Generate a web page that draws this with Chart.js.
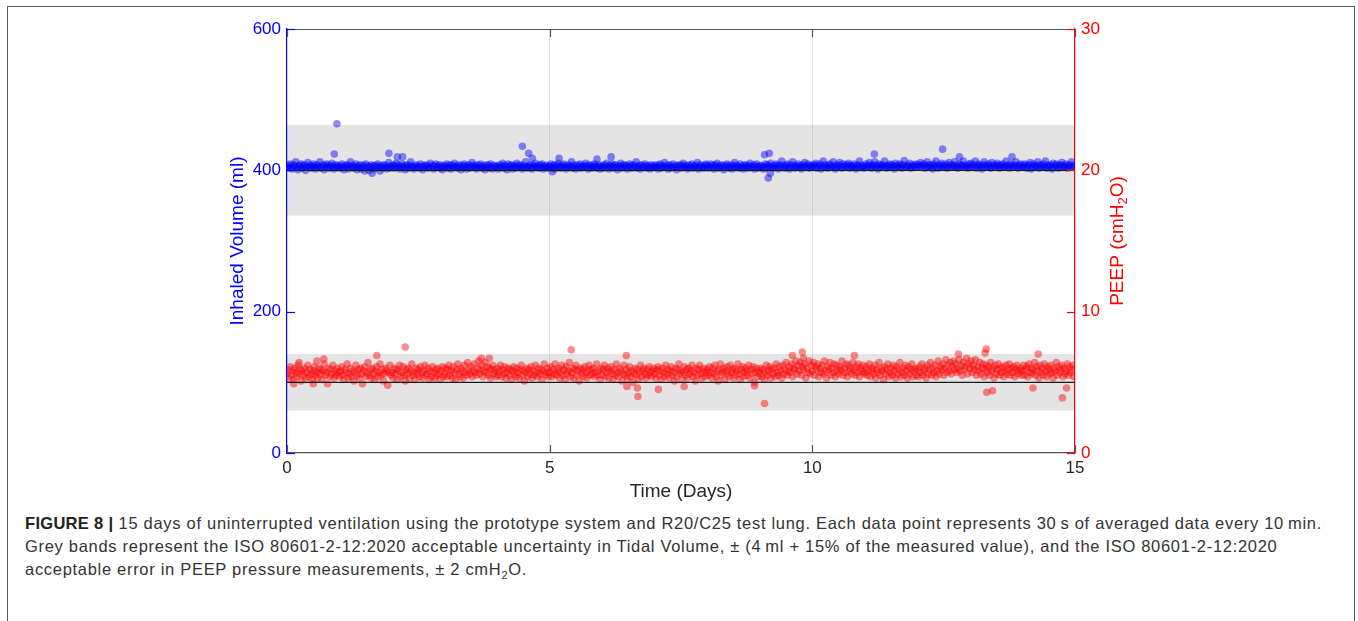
<!DOCTYPE html>
<html>
<head>
<meta charset="utf-8">
<title>Ventilation test, 15 days</title>
<script src="https://cdn.jsdelivr.net/npm/chart.js@4.4.1/dist/chart.umd.min.js"></script>
<style>
  html, body { margin: 0; padding: 0; background: #fff; }
  body { width: 1358px; height: 621px; position: relative; overflow: hidden; font-family: "Liberation Sans", Arial, sans-serif; }
  #frame { position: absolute; left: 7px; top: 6px; width: 1348px; height: 700px; border: 1.5px solid #5a5a5a; box-sizing: border-box; }
  #chart { position: absolute; left: 0; top: 0; }
  #caption { position: absolute; left: 25px; top: 512px; width: 1320px; font-size: 16.5px; letter-spacing: 0.7px; line-height: 23px; color: #333; white-space: nowrap; }
  #caption b { color: #222; letter-spacing: 0.3px; }
</style>
</head>
<body>
<div id="frame"></div>
<canvas id="chart" width="1358" height="505"></canvas>
<div id="caption"><b>FIGURE 8 |</b> 15 days of uninterrupted ventilation using the prototype system and R20/C25 test lung. Each data point represents 30&thinsp;s of averaged data every 10&thinsp;min.<br>Grey bands represent the ISO 80601-2-12:2020 acceptable uncertainty in Tidal Volume, &plusmn; (4&thinsp;ml + 15% of the measured value), and the ISO 80601-2-12:2020<br>acceptable error in PEEP pressure measurements, &plusmn; 2 cmH<sub style="font-size:11px;line-height:0">2</sub>O.</div>
<script>
// one averaged sample every 30 min, 48 per day
var SAMPLES_PER_DAY = 48;

// inhaled volume (ml), one row per day
var inhaledVolume = [
  404,407,403,409,405,402,408,406,412,404,401,407,405,409,403,406,408,400,405,411,404,407,403,406,409,405,402,408,404,406,412,403,405,408,401,406,409,404,407,403,406,410,405,402,408,404,407,405,
  403,406,409,404,401,407,405,408,402,406,412,404,407,403,405,409,401,406,404,408,402,405,407,399,409,404,406,400,405,408,403,406,402,407,404,409,405,399,406,403,408,404,407,402,405,411,403,406,
  405,408,403,406,410,404,407,402,405,409,404,406,401,408,405,403,407,412,404,406,402,405,408,404,406,403,409,405,401,407,404,406,408,403,405,410,404,407,402,406,409,404,405,408,403,406,401,407,
  404,406,409,403,405,408,402,407,405,410,404,406,403,408,405,401,407,404,409,406,402,405,408,403,406,411,404,407,405,402,408,404,406,409,403,405,407,401,404,408,406,403,409,405,402,407,404,406,
  405,402,408,404,406,410,403,407,405,401,409,404,406,408,402,405,407,403,410,406,404,408,405,402,407,404,412,405,403,406,408,404,402,407,405,410,404,406,403,408,405,409,402,406,404,407,403,405,
  406,409,403,405,408,402,407,404,410,405,403,407,404,409,406,402,405,408,404,406,412,403,407,405,402,408,404,406,409,403,405,407,404,410,406,402,408,405,403,407,404,409,406,403,405,408,402,406,
  405,403,408,406,410,404,402,407,405,409,403,406,408,404,401,407,405,410,403,406,408,404,407,402,405,409,406,403,408,404,406,412,403,405,407,402,408,405,404,409,406,403,407,405,402,408,404,406,
  404,408,405,402,407,409,403,406,405,411,404,407,402,406,408,403,405,409,404,406,401,407,405,408,403,406,410,404,407,405,402,408,404,406,409,403,405,407,404,411,402,406,408,404,405,403,407,409,
  406,403,405,409,404,407,402,408,405,410,403,406,404,408,405,401,407,404,409,406,403,405,408,402,406,411,404,407,405,403,409,404,406,402,408,405,407,403,406,410,404,405,408,402,406,409,403,405,
  407,404,406,402,405,409,403,408,406,404,410,405,403,407,404,409,406,402,408,405,413,404,407,403,406,409,405,402,408,404,412,406,403,407,405,409,404,406,402,408,405,411,404,406,409,403,407,405,
  404,408,406,410,403,407,405,409,402,406,413,404,408,405,403,407,409,404,406,412,405,402,408,404,407,411,405,403,409,406,404,408,405,410,403,407,406,404,409,405,402,408,406,413,404,407,405,403,
  406,409,404,407,411,405,403,408,406,412,404,407,402,409,405,406,408,404,413,406,403,407,405,409,404,408,406,402,410,405,407,404,409,406,403,408,414,405,404,407,406,410,403,405,408,406,404,409,
  405,408,406,411,404,407,409,403,406,412,405,408,404,407,402,409,406,413,405,403,408,406,410,404,407,405,409,403,406,411,404,408,405,407,412,404,406,403,409,405,408,406,413,404,407,405,403,409,
  406,410,404,408,405,413,403,407,409,405,406,402,408,412,404,407,405,409,406,403,411,405,408,404,407,410,406,403,408,405,409,404,406,413,405,407,403,409,406,404,408,405,412,406,403,407,409,405,
  404,407,409,405,403,408,406,411,402,406,409,404,407,405,412,403,408,406,404,409,405,413,403,407,405,408,406,402,410,404,407,409,405,403,408,406,411,404,407,405,409,403,406,408,404,412,405,407
];

// PEEP (cmH2O), one row per day
var peep = [
  5.6,5.9,5.3,6.1,5.5,5.8,5.2,6.0,5.7,5.4,6.2,5.6,5.9,5.1,5.8,5.5,6.0,5.3,5.7,6.2,5.4,5.9,5.6,5.2,5.8,6.1,5.5,5.7,5.3,6.0,5.6,5.9,5.2,5.8,6.3,5.5,5.7,4.9,6.0,5.4,5.9,5.6,6.2,5.3,5.8,5.5,6.0,5.7,
  5.4,5.8,6.1,5.5,5.2,5.9,5.7,6.3,5.3,5.6,6.0,5.4,5.8,5.1,5.7,6.2,5.5,5.9,5.3,6.0,5.6,4.9,5.8,6.1,5.4,5.7,6.4,5.5,5.9,5.3,6.0,5.6,5.2,5.8,6.1,5.4,5.7,6.3,5.5,5.9,5.1,5.6,6.0,5.8,4.8,5.7,6.2,5.5,
  5.7,5.3,6.0,5.6,5.9,5.2,5.8,6.2,5.4,5.7,6.1,5.5,5.1,5.9,5.6,6.0,5.3,5.8,6.3,5.5,5.7,5.2,6.0,5.6,5.9,5.4,6.1,5.7,5.3,5.8,6.2,5.5,5.6,6.0,5.2,5.8,5.4,6.1,5.7,5.3,5.9,5.5,6.0,5.6,5.2,5.8,6.1,5.4,
  5.6,6.0,5.4,5.9,6.2,5.5,5.8,5.3,6.1,5.7,5.2,5.9,6.3,5.6,5.4,6.0,5.8,5.3,6.2,5.7,5.5,6.4,5.9,5.6,6.1,5.4,5.8,6.3,5.7,5.5,6.0,6.5,5.6,5.9,6.2,5.4,5.8,6.4,5.7,6.1,5.5,6.0,5.3,5.9,6.2,5.6,5.8,5.4,
  6.0,5.5,5.8,6.2,5.4,5.9,5.6,6.1,5.3,5.7,6.0,5.5,5.9,5.2,5.8,6.1,5.6,5.4,6.0,5.7,5.3,5.9,6.2,5.5,5.8,5.1,5.7,6.0,5.4,5.9,5.6,6.1,5.3,5.8,5.5,6.2,5.7,5.4,6.0,5.6,5.9,5.2,5.8,6.3,5.5,5.7,6.0,5.4,
  5.7,6.1,5.4,5.9,5.6,6.3,5.5,5.8,6.0,5.3,5.7,6.2,5.5,5.9,5.2,6.1,5.6,5.8,6.4,5.4,5.7,6.0,5.3,5.9,6.2,5.5,5.8,5.1,6.0,5.6,5.9,5.4,6.1,5.7,5.3,5.8,6.2,5.5,5.9,5.6,6.0,5.4,5.7,6.3,5.5,5.8,5.2,6.0,
  5.5,5.9,6.2,5.4,5.7,6.0,5.3,5.8,6.1,5.6,5.2,5.9,5.5,6.3,5.7,5.4,6.0,5.8,5.1,5.6,6.2,5.5,5.9,5.3,5.7,6.1,5.4,5.8,5.0,5.6,6.0,5.5,5.9,5.2,5.7,6.2,5.4,5.8,6.0,5.6,5.3,5.9,5.5,6.1,5.7,5.4,5.8,6.0,
  5.6,5.3,5.9,6.1,5.5,5.8,5.2,6.0,5.7,5.4,6.2,5.6,5.9,5.3,5.8,6.1,5.5,5.7,5.1,6.0,5.4,5.9,6.3,5.6,5.8,5.2,5.7,6.1,5.5,5.9,5.3,6.0,5.6,5.8,6.2,5.4,5.7,5.1,6.0,5.5,5.9,6.2,5.6,5.3,5.8,6.0,5.4,5.7,
  5.9,5.5,6.1,5.7,5.3,6.0,5.6,6.2,5.4,5.8,5.1,5.9,6.3,5.5,5.7,6.0,5.2,5.8,6.1,5.6,5.4,6.2,5.7,5.9,5.3,6.0,5.5,5.8,6.3,5.6,5.2,5.9,6.1,5.4,5.7,6.0,5.5,5.8,6.2,5.3,5.9,5.6,6.1,5.0,5.7,6.0,5.4,5.8,
  5.6,6.0,5.4,5.9,5.2,5.7,6.2,5.5,5.8,6.1,5.3,5.9,5.6,6.0,5.4,6.3,5.7,5.5,6.1,5.8,5.3,6.2,5.6,5.9,6.4,5.5,5.8,6.1,5.7,6.3,5.4,6.0,5.9,6.5,5.6,6.2,5.8,6.4,5.5,6.1,5.9,6.3,5.3,6.0,5.7,6.5,5.6,6.2,
  5.8,6.4,5.5,6.1,5.9,6.3,5.4,6.0,5.7,6.2,5.6,6.5,5.8,5.3,6.1,5.9,6.4,5.5,6.0,5.7,6.3,5.4,6.2,5.8,5.6,6.1,5.9,6.5,5.5,6.0,5.7,6.3,5.4,6.2,5.8,6.0,5.6,6.4,5.9,5.5,6.1,5.7,6.3,5.4,6.0,5.8,6.2,5.6,
  5.7,6.1,5.5,5.9,6.3,5.4,5.8,6.0,5.6,6.2,5.3,5.9,5.7,6.4,5.5,6.0,5.8,5.2,6.1,5.6,5.9,6.3,5.4,5.7,6.0,5.5,6.2,5.8,5.3,6.1,5.6,5.9,6.4,5.4,5.7,6.0,5.5,6.2,5.8,5.3,6.1,5.6,5.9,6.3,5.4,5.8,6.0,5.5,
  5.9,5.4,6.1,5.7,6.3,5.5,5.8,6.0,5.3,6.2,5.6,5.9,6.4,5.5,6.0,5.7,6.2,5.4,5.8,6.5,5.6,6.1,5.9,6.3,5.5,6.0,6.6,5.7,6.2,5.8,6.4,5.6,6.1,6.5,5.9,6.3,5.7,6.0,6.6,5.8,6.2,5.5,6.4,5.9,6.1,6.7,5.6,6.3,
  6.0,6.5,5.7,6.2,5.9,6.6,5.5,6.1,5.8,6.4,5.6,6.0,6.3,5.4,5.9,6.2,5.7,6.1,5.5,6.4,5.8,6.0,5.3,6.2,5.6,5.9,6.3,5.5,6.0,5.7,6.1,5.4,5.8,6.2,5.6,5.9,6.3,5.5,6.0,5.7,6.1,5.4,5.9,6.2,5.6,5.8,6.0,5.5,
  5.8,6.2,5.5,5.9,6.1,5.4,6.3,5.7,6.0,5.6,5.9,6.4,5.5,6.1,5.8,5.3,6.2,5.7,6.0,5.5,6.3,5.8,5.4,6.1,5.9,5.6,6.2,5.7,5.3,6.0,5.8,6.4,5.5,6.1,5.7,5.9,6.2,5.4,6.0,5.6,5.8,6.3,5.5,6.1,5.7,5.9,6.2,5.4
];

// isolated readings away from the main band: time (days) and value
var volumeOutlierDays   = [0.90, 0.95, 1.62, 1.94, 2.10, 2.20, 4.48, 4.60, 4.67, 5.05, 5.18, 5.90, 6.17, 9.09, 9.16, 9.18, 9.20, 11.18, 12.48, 12.80, 13.80];
var volumeOutliers      = [423,  466,  396,  424,  419,  419,  434,  424,  417,  398,  417,  416,  419,  422,  389,  424,  396,  423,   430,   419,   419];
var peepOutlierDays     = [0.13, 0.23, 0.50, 0.57, 0.70, 1.71, 2.25, 3.70, 3.85, 5.41, 6.46, 6.47, 6.67, 6.68, 7.07, 7.56, 8.90, 9.09, 9.62, 9.81, 9.83, 10.80, 12.78, 13.29, 13.31, 13.32, 13.43, 14.20, 14.30, 14.76, 14.84];
var peepOutliers        = [4.9,  6.4,  4.9,  6.5,  6.65, 6.9,  7.5,  6.7,  6.7,  7.3,  6.9,  4.7,  4.6,  4.0,  4.5,  4.7,  4.75, 3.5,  6.9,  7.15, 6.7,  6.9,   7.0,   7.07,  7.36,  4.3,   4.4,   4.6,   7.0,   3.9,   4.6];

// set points and ISO 80601-2-12 acceptance bands
var volumeSet = 400, volumeBand = [336, 464];
var peepSet = 5, peepBand = [3, 7];

var xTicks = [0, 5, 10, 15];
var volumeTicks = [0, 200, 400, 600];
var peepTicks = [0, 10, 20, 30];

function toPoints(values, days, extra) {
  var pts = values.map(function (v, i) { return { x: i / SAMPLES_PER_DAY, y: v }; });
  days.forEach(function (d, i) { pts.push({ x: d, y: extra[i] }); });
  return pts;
}

var FONT = '"Liberation Sans", Arial, sans-serif';

var decorations = {
  id: 'decorations',
  beforeDraw: function (chart) {
    var c = chart.ctx, a = chart.chartArea;
    var y = chart.scales.y, y1 = chart.scales.y1;
    c.save();
    c.fillStyle = '#e4e4e4';
    var t = y.getPixelForValue(volumeBand[1]), b = y.getPixelForValue(volumeBand[0]);
    c.fillRect(a.left, t, a.right - a.left, b - t);
    t = y1.getPixelForValue(peepBand[1]); b = y1.getPixelForValue(peepBand[0]);
    c.fillRect(a.left, t, a.right - a.left, b - t);
    c.restore();
  },
  afterDatasetsDraw: function (chart) {
    var c = chart.ctx, a = chart.chartArea;
    c.save();
    c.strokeStyle = '#1a1a1a';
    c.lineWidth = 1.3;
    [chart.scales.y.getPixelForValue(volumeSet), chart.scales.y1.getPixelForValue(peepSet)].forEach(function (py) {
      c.beginPath(); c.moveTo(a.left, py); c.lineTo(a.right, py); c.stroke();
    });
    c.restore();
  },
  afterDraw: function (chart) {
    var c = chart.ctx, a = chart.chartArea;
    var x = chart.scales.x, y = chart.scales.y, y1 = chart.scales.y1;
    var tl = 8;
    c.save();
    // top box edge
    c.strokeStyle = '#555';
    c.lineWidth = 1.2;
    c.beginPath(); c.moveTo(a.left, a.top + 0.5); c.lineTo(a.right, a.top + 0.5); c.stroke();
    // inward ticks
    xTicks.forEach(function (v) {
      var px = Math.round(x.getPixelForValue(v)) + 0.5;
      c.beginPath();
      c.moveTo(px, a.bottom); c.lineTo(px, a.bottom - tl);
      c.moveTo(px, a.top); c.lineTo(px, a.top + tl);
      c.stroke();
    });
    c.strokeStyle = '#0000ff';
    volumeTicks.forEach(function (v) {
      var py = Math.round(y.getPixelForValue(v)) + 0.5;
      c.beginPath(); c.moveTo(a.left, py); c.lineTo(a.left + tl, py); c.stroke();
    });
    c.strokeStyle = '#ff0000';
    peepTicks.forEach(function (v) {
      var py = Math.round(y1.getPixelForValue(v)) + 0.5;
      c.beginPath(); c.moveTo(a.right, py); c.lineTo(a.right - tl, py); c.stroke();
    });

    // axis titles
    var mid = (a.top + a.bottom) / 2;
    c.textBaseline = 'middle';
    c.textAlign = 'center';
    c.font = '19px ' + FONT;
    c.fillStyle = '#262626';
    c.fillText('Time (Days)', (a.left + a.right) / 2, 492);

    c.save();
    c.translate(238, mid);
    c.rotate(-Math.PI / 2);
    c.fillStyle = '#0000ff';
    c.fillText('Inhaled Volume (ml)', 0, 0);
    c.restore();

    c.save();
    c.translate(1118, mid);
    c.rotate(-Math.PI / 2);
    c.fillStyle = '#ff0000';
    var main = 'PEEP (cmH', sub = '2', tail = 'O)';
    c.font = '19px ' + FONT;
    var w1 = c.measureText(main).width, w3 = c.measureText(tail).width;
    c.font = '13px ' + FONT;
    var w2 = c.measureText(sub).width;
    var x0 = -(w1 + w2 + w3) / 2;
    c.textAlign = 'left';
    c.font = '19px ' + FONT;
    c.fillText(main, x0, 0);
    c.font = '13px ' + FONT;
    c.fillText(sub, x0 + w1, 5);
    c.font = '19px ' + FONT;
    c.fillText(tail, x0 + w1 + w2, 0);
    c.restore();

    c.restore();
  }
};

new Chart(document.getElementById('chart').getContext('2d'), {
  type: 'scatter',
  data: {
    datasets: [{
      label: 'Inhaled Volume',
      data: toPoints(inhaledVolume, volumeOutlierDays, volumeOutliers),
      yAxisID: 'y',
      backgroundColor: 'rgba(0, 0, 255, 0.45)',
      borderWidth: 0,
      pointRadius: 3.8
    }, {
      label: 'PEEP',
      data: toPoints(peep, peepOutlierDays, peepOutliers),
      yAxisID: 'y1',
      backgroundColor: 'rgba(255, 0, 0, 0.45)',
      borderWidth: 0,
      pointRadius: 3.8
    }]
  },
  options: {
    responsive: false,
    animation: false,
    devicePixelRatio: 1,
    layout: { padding: { top: 29, left: 0, right: 0, bottom: 0 } },
    plugins: { legend: { display: false }, tooltip: { enabled: false } },
    scales: {
      x: {
        type: 'linear', min: 0, max: 15,
        afterBuildTicks: function (s) { s.ticks = xTicks.map(function (v) { return { value: v }; }); },
        afterFit: function (s) { s.height = 505 - 453; },
        ticks: { color: '#262626', font: { size: 17, family: FONT }, padding: 5, maxRotation: 0 },
        grid: {
          drawTicks: false,
          color: function (ctx) { return (ctx.tick && ctx.tick.value > 0 && ctx.tick.value < 15) ? 'rgba(0,0,0,0.1)' : 'rgba(0,0,0,0)'; }
        },
        border: { color: '#555', width: 1.2 }
      },
      y: {
        position: 'left', min: 0, max: 600,
        afterBuildTicks: function (s) { s.ticks = volumeTicks.map(function (v) { return { value: v }; }); },
        afterFit: function (s) { s.width = 287; },
        ticks: { color: '#0000ff', font: { size: 17, family: FONT }, padding: 6 },
        grid: { display: false, drawTicks: false },
        border: { color: '#0000ff', width: 1.2 }
      },
      y1: {
        position: 'right', min: 0, max: 30,
        afterBuildTicks: function (s) { s.ticks = peepTicks.map(function (v) { return { value: v }; }); },
        afterFit: function (s) { s.width = 1358 - 1075; },
        ticks: { color: '#ff0000', font: { size: 17, family: FONT }, padding: 6 },
        grid: { display: false, drawTicks: false },
        border: { color: '#ff0000', width: 1.2 }
      }
    }
  },
  plugins: [decorations]
});
</script>
</body>
</html>
